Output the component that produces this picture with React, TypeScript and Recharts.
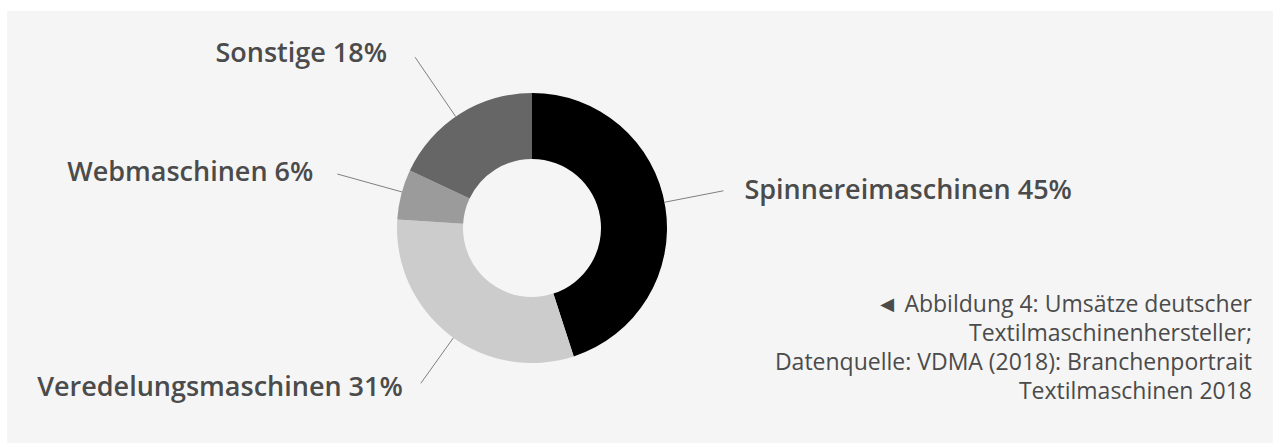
import { PieChart, Pie, Cell } from 'recharts';

const names = ['Spinnereimaschinen', 'Veredelungsmaschinen', 'Webmaschinen', 'Sonstige'];
const shares = [45, 31, 6, 18];
const colors = ['#000000', '#cccccc', '#9b9b9b', '#666666'];
const captionLines = [
  '◄ Abbildung 4: Umsätze deutscher',
  'Textilmaschinenhersteller;',
  'Datenquelle: VDMA (2018): Branchenportrait',
  'Textilmaschinen 2018',
];

// label layout per slice: angle nudge, leader length, text gap, baseline shift
const labelLayout = [
  { nudge: 2, len: 60, gap: 21, dy: 8 },
  { nudge: 2.2, len: 56, gap: 18, dy: 13 },
  { nudge: -1.1, len: 67, gap: 24, dy: 7 },
  { nudge: 2, len: 72, gap: 28, dy: 5 },
];

const data = names.map((name, i) => ({ name, value: shares[i] }));

const RADIAN = Math.PI / 180;
const FONT = '"Open Sans", Lato, sans-serif';

function renderLabel(props: any) {
  const { cx, cy, midAngle, outerRadius, index, name, value } = props;
  const lay = labelLayout[index];
  const a = (midAngle + lay.nudge) * RADIAN;
  const cos = Math.cos(a);
  const sin = -Math.sin(a);
  const sx = cx + outerRadius * cos;
  const sy = cy + outerRadius * sin;
  const ex = cx + (outerRadius + lay.len) * cos;
  const ey = cy + (outerRadius + lay.len) * sin;
  const right = cos >= 0;
  const tx = ex + (right ? lay.gap : -lay.gap);
  return (
    <g key={`label-${index}`}>
      <line x1={sx} y1={sy} x2={ex} y2={ey} stroke="#808080" strokeWidth={1} />
      <text
        x={tx}
        y={ey + lay.dy}
        textAnchor={right ? 'start' : 'end'}
        fill="#4b4b4b"
        fontFamily={FONT}
        fontSize={27}
        fontWeight={600}
      >
        {`${name} ${value}%`}
      </text>
    </g>
  );
}

export default function App() {
  return (
    <div style={{ position: 'absolute', left: 0, top: 0, width: 1273, height: 443, background: '#ffffff' }}>
      <div style={{ position: 'absolute', left: 7, top: 11, width: 1266, height: 432, background: '#f5f5f5' }} />
      <div style={{ position: 'absolute', left: 0, top: 0 }}>
        <PieChart width={1273} height={443} margin={{ top: 0, right: 0, bottom: 0, left: 0 }}>
          <Pie
            data={data}
            dataKey="value"
            nameKey="name"
            cx={532}
            cy={228}
            innerRadius={69}
            outerRadius={135}
            startAngle={90}
            endAngle={-270}
            stroke="none"
            label={renderLabel}
            labelLine={false}
            isAnimationActive={false}
          >
            {data.map((d, i) => (
              <Cell key={d.name} fill={colors[i]} />
            ))}
          </Pie>
        </PieChart>
      </div>
      <div
        style={{
          position: 'absolute',
          right: 21,
          top: 289,
          textAlign: 'right',
          fontFamily: FONT,
          fontSize: 23,
          lineHeight: '29px',
          color: '#4b4b4b',
          whiteSpace: 'nowrap',
        }}
      >
        {captionLines.map((l) => (
          <div key={l}>{l}</div>
        ))}
      </div>
    </div>
  );
}
